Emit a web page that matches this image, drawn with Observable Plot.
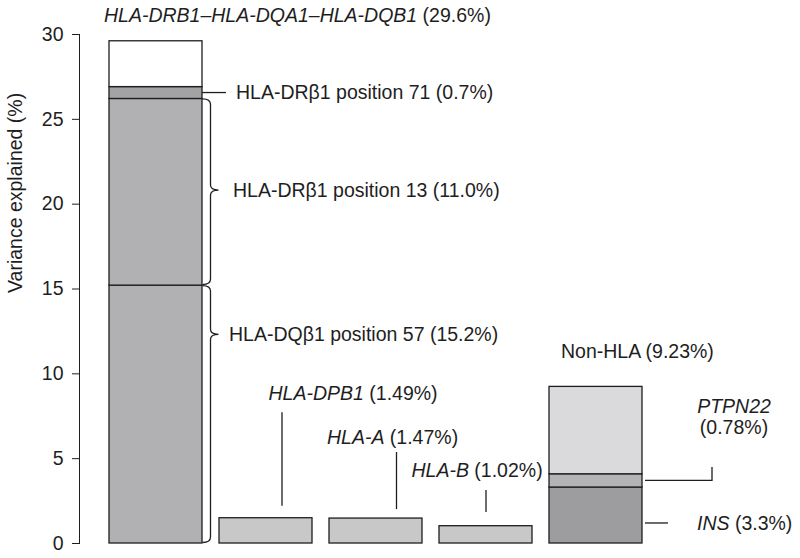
<!DOCTYPE html>
<html><head><meta charset="utf-8">
<script src="https://cdn.jsdelivr.net/npm/d3@7"></script>
<script src="https://cdn.jsdelivr.net/npm/@observablehq/plot@0.6"></script>
<style>
body{margin:0;background:#fff;}
#chart svg{font-family:"Liberation Sans",Arial,Helvetica,sans-serif;}
</style>
</head><body><div id="chart"></div>
<script>
// ---- data ----
const categories = ["HLA-DRB1–HLA-DQA1–HLA-DQB1", "HLA-DPB1", "HLA-A", "HLA-B", "Non-HLA"];
const segCategory = ["HLA-DRB1–HLA-DQA1–HLA-DQB1","HLA-DRB1–HLA-DQA1–HLA-DQB1","HLA-DRB1–HLA-DQA1–HLA-DQB1","HLA-DRB1–HLA-DQA1–HLA-DQB1","HLA-DPB1","HLA-A","HLA-B","Non-HLA","Non-HLA","Non-HLA"];
const segName = ["DQβ1 57","DRβ1 13","DRβ1 71","DRB1 other","DPB1","HLA-A","HLA-B","INS","PTPN22","Non-HLA other"];
const segValue = [15.2, 11.0, 0.7, 2.7, 1.49, 1.47, 1.02, 3.3, 0.78, 5.15];
const yTicks = [0, 5, 10, 15, 20, 25, 30];

// ---- styles (kept out of the data) ----
const shade = {
  "DQβ1 57":"#b1b1b4","DRβ1 13":"#b1b1b4","DRβ1 71":"#a3a3a5","DRB1 other":"#ffffff",
  "DPB1":"#c8c8c9","HLA-A":"#c8c8c9","HLA-B":"#c8c8c9",
  "INS":"#9d9d9f","PTPN22":"#b4b4b6","Non-HLA other":"#dadadc"
};
const ink = "#1e1e1e";

const segs = segName.map((name, i) => ({cat: segCategory[i], name, value: segValue[i]}));
// cumulative bounds per segment
const bounds = {};
{
  const acc = {};
  for (const s of segs) {
    const lo = acc[s.cat] || 0;
    bounds[s.name] = [lo, lo + s.value];
    acc[s.cat] = lo + s.value;
  }
}
const mid = n => (bounds[n][0] + bounds[n][1]) / 2;
const C = categories;

// annotation labels: category, y (in data units), text, pixel dx, anchor
const labels = [
  {cat: C[0], y: 31.1, text: "*HLA-DRB1–HLA-DQA1–HLA-DQB1* (29.6%)", dx: -52, anchor: "start"},
  {cat: C[0], y: mid("DRβ1 71"), text: "HLA-DRβ1 position 71 (0.7%)", dx: 80, anchor: "start"},
  {cat: C[0], y: 20.8, text: "HLA-DRβ1 position 13 (11.0%)", dx: 77, anchor: "start"},
  {cat: C[0], y: 12.3, text: "HLA-DQβ1 position 57 (15.2%)", dx: 73, anchor: "start"},
  {cat: C[1], y: 8.84, text: "*HLA-DPB1* (1.49%)", dx: 2.5, anchor: "start"},
  {cat: C[2], y: 6.25, text: "*HLA-A* (1.47%)", dx: -49, anchor: "start"},
  {cat: C[3], y: 4.3, text: "*HLA-B* (1.02%)", dx: -74.5, anchor: "start"},
  {cat: C[4], y: 11.3, text: "Non-HLA (9.23%)", dx: -35, anchor: "start"},
  {cat: C[4], y: 8.07, text: "*PTPN22*", dx: 138, anchor: "middle"},
  {cat: C[4], y: 6.84, text: "(0.78%)", dx: 138, anchor: "middle"},
  {cat: C[4], y: 1.18, text: "*INS* (3.3%)", dx: 101, anchor: "start"}
];

// leader lines: pts are [pixel offset from band centre, y value]
const leaders = [
  {cat: C[0], pts: [["edge", mid("DRβ1 71")], ["edge+24", mid("DRβ1 71")]]},
  {cat: C[1], pts: [[16.5, 2.2], [16.5, 7.7]]},
  {cat: C[2], pts: [[21, 2.0], [21, 5.36]]},
  {cat: C[3], pts: [[0.5, 1.83], [0.5, 3.12]]},
  {cat: C[4], pts: [["edge+3", mid("PTPN22")], ["edge+70", mid("PTPN22")], ["edge+70", 4.48]]},
  {cat: C[4], pts: [["edge+3", 1.18], ["edge+26", 1.18]]}
];
const braces = [
  {cat: C[0], y1: bounds["DRβ1 13"][0], y2: bounds["DRβ1 13"][1], tip: 20.8},
  {cat: C[0], y1: bounds["DQβ1 57"][0], y2: bounds["DQβ1 57"][1], tip: 12.3}
];

function annotations(index, scales) {
  const {x, y} = scales;
  const bw = typeof x.bandwidth === "function" ? x.bandwidth() : x.bandwidth;
  const cx = c => x(c) + bw / 2;
  const off = (c, o) => {
    if (typeof o === "number") return cx(c) + o;
    const m = o.match(/^edge([+-][\d.]+)?$/);
    return x(c) + bw + (m[1] ? +m[1] : 0);
  };
  const g = d3.create("svg:g").attr("fill", "none").attr("stroke", ink)
    .attr("stroke-width", 1.3).attr("stroke-linejoin", "miter");
  for (const l of leaders) {
    g.append("path").attr("d", "M" + l.pts.map(([o, v]) => [off(l.cat, o), y(v)].join(",")).join("L"));
  }
  for (const b of braces) {
    const xe = x(b.cat) + bw + 0.5, xv = xe + 8, xt = xv + 8;
    const top = y(b.y2), bot = y(b.y1), t = y(b.tip), r = 6, r2 = 5;
    const p = d3.path();
    p.moveTo(xe, top + 0.5);
    p.quadraticCurveTo(xv, top + 0.5, xv, top + r);
    p.lineTo(xv, t - r2);
    p.quadraticCurveTo(xv, t, xt, t);
    p.quadraticCurveTo(xv, t, xv, t + r2);
    p.lineTo(xv, bot - r);
    p.quadraticCurveTo(xv, bot - 0.5, xe, bot - 0.5);
    g.append("path").attr("d", p.toString());
  }
  return g.node();
}

const chart = Plot.plot({
  width: 800,
  height: 558,
  marginLeft: 79,
  marginRight: 128,
  marginTop: 34,
  marginBottom: 15,
  style: {fontSize: "19.5px", fontFamily: "'Liberation Sans', Arial, Helvetica, sans-serif", color: ink, background: "#fff"},
  x: {domain: categories, axis: null, paddingInner: 0.155, paddingOuter: 0.262},
  y: {domain: [0, 30], ticks: yTicks, tickSize: 7, tickPadding: 9, label: null, line: true},
  color: {type: "identity"},
  marks: [
    Plot.barY(segs, {x: "cat", y: "value", fill: d => shade[d.name], stroke: ink, strokeWidth: 1.3}),
    annotations,
    ...labels.map(l => Plot.text([l], {x: "cat", y: "y", text: "text", dx: l.dx, textAnchor: l.anchor, fill: ink, fontSize: 19.5})),
    Plot.text(["Variance explained (%)"], {frameAnchor: "left", rotate: -90, dx: -64, dy: 4, fill: ink, fontSize: 19.5})
  ]
});

// italic spans marked with *...*
d3.select(chart).selectAll("text").each(function () {
  const t = this.textContent;
  if (!t.includes("*")) return;
  const parts = t.split("*");
  this.textContent = "";
  parts.forEach((p, i) => {
    if (!p) return;
    const s = d3.select(this).append("tspan").text(p);
    if (i % 2) s.attr("font-style", "italic");
  });
});
document.getElementById("chart").appendChild(chart);
</script>
</body></html>
